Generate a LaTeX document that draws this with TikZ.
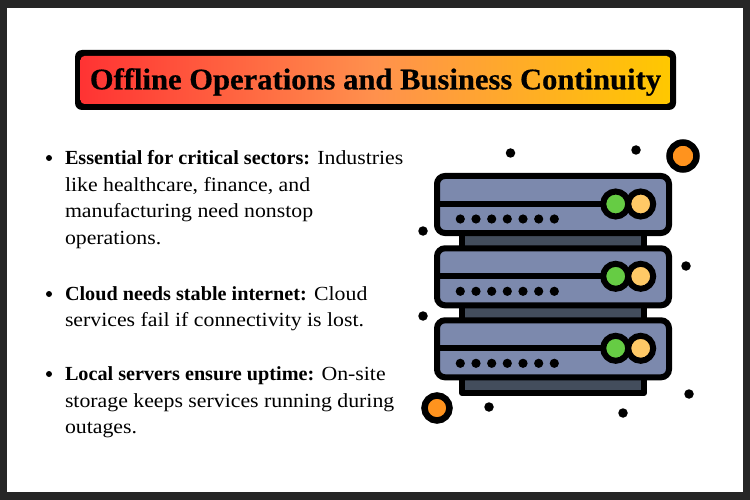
\documentclass[tikz,border=0pt]{standalone}
\usepackage{fontspec}
\setmainfont[FakeStretch=1.09,BoldFeatures={FakeStretch=1.01}]{Liberation Serif}
\newfontfamily\titlefont[BoldFeatures={FakeBold=0.5,FakeStretch=1.02}]{Liberation Serif}
\definecolor{frameC}{HTML}{262626}
\definecolor{gradA}{HTML}{FF3333}
\definecolor{gradB}{HTML}{FF914D}
\definecolor{gradC}{HTML}{FFC800}
\definecolor{slateC}{HTML}{7C89AD}
\definecolor{standC}{HTML}{434D5C}
\definecolor{greenC}{HTML}{66CC44}
\definecolor{amberC}{HTML}{FFC966}
\definecolor{orangeC}{HTML}{FF931E}
\pgfdeclarehorizontalshading{titlegrad}{100bp}{color(0bp)=(gradA); color(25bp)=(gradA); color(50bp)=(gradB); color(75bp)=(gradC); color(100bp)=(gradC)}
\tikzset{
  x=1pt,y=-1pt,
  bodyline/.style={anchor=base west,inner sep=0pt,outer sep=0pt,font=\fontsize{20}{24}\selectfont,text=black},
  bulletdot/.style={circle,fill=black,inner sep=0pt,minimum size=6pt},
  speck/.style={circle,fill=black,inner sep=0pt,minimum size=9.5pt},
  unit/.style={draw=black,line width=6pt,fill=slateC,rounded corners=8pt},
  standbar/.style={draw=black,line width=6pt,fill=standC,line join=round},
  lamp/.style={circle,draw=black,line width=6pt,minimum size=25pt,inner sep=0pt},
}
\newcommand{\serverunit}[2]{%
  \begin{scope}[yshift=-#1pt]
    \draw[unit] (437,176) rectangle (669,233);
    \draw[black,line width=6pt] (437,204) -- (601,204);
    \node[lamp,fill=greenC] (#2g) at (615.7,204) {};
    \node[lamp,fill=amberC] (#2y) at (640.7,204) {};
    \foreach \dx in {460.3,476,491.7,507.3,523,538.7,554.3}
      \fill[black] (\dx,219) circle (4.6pt);
  \end{scope}}
\begin{document}
\begin{tikzpicture}
\useasboundingbox (0,0) rectangle (750,500);
\fill[frameC] (0,0) rectangle (750,500);
\fill[white] (7,8) rectangle (743,492);
% title
\node[anchor=north west,inner sep=0pt,outer sep=0pt,minimum width=601pt,minimum height=60pt,fill=black,rounded corners=7pt] (titleouter) at (75,50) {};
\begin{scope}
  \clip[rounded corners=4pt] (80.5,56) rectangle (670.5,104);
  \node[anchor=north west,inner sep=0pt,outer sep=0pt,minimum width=590pt,minimum height=48pt,shading=titlegrad] (titlefill) at (80.5,56) {};
\end{scope}
\node[inner sep=0pt,font=\fontsize{30}{34}\selectfont\titlefont\bfseries,text=black] (title) at (375.5,82) {Offline Operations and Business Continuity};
% bullets
\foreach \n/\yy in {a/158,b/294,c/374}
  \node[bulletdot] (bullet\n) at (49,\yy) {};
\node[bodyline] (l1) at (65,164.5) {\textbf{Essential for critical sectors:} Industries};
\node[bodyline] (l2) at (65,191) {like healthcare, finance, and};
\node[bodyline] (l3) at (65,217.5) {manufacturing need nonstop};
\node[bodyline] (l4) at (65,244) {operations.};
\node[bodyline] (l5) at (65,300) {\textbf{Cloud needs stable internet:} Cloud};
\node[bodyline] (l6) at (65,326.5) {services fail if connectivity is lost.};
\node[bodyline] (l7) at (65,380.5) {\textbf{Local servers ensure uptime:} On-site};
\node[bodyline] (l8) at (65,407) {storage keeps services running during};
\node[bodyline] (l9) at (65,433.5) {outages.};
% stands
\draw[standbar] (462,233) rectangle (644,249);
\draw[standbar] (462,305) rectangle (644,321);
\draw[standbar] (462,377) rectangle (644,393);
\serverunit{0}{u1}
\serverunit{72.3}{u2}
\serverunit{144.3}{u3}
% specks
\foreach \n/\px/\py in {a/510.5/153,b/636/150,c/423/231,d/686/266,e/423/316,f/489/407,g/623/413,h/689/394}
  \node[speck] (speck\n) at (\px,\py) {};
\node[circle,draw=black,line width=6.5pt,fill=orangeC,minimum size=27pt,inner sep=0pt] (orb1) at (683,156) {};
\node[circle,draw=black,line width=6.5pt,fill=orangeC,minimum size=25pt,inner sep=0pt] (orb2) at (437,408) {};
\end{tikzpicture}
\end{document}
